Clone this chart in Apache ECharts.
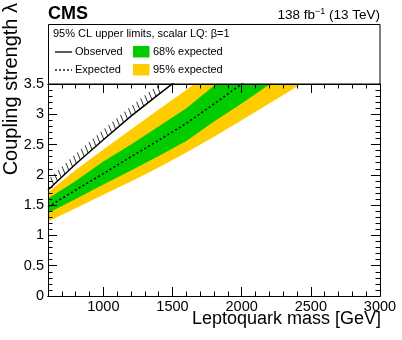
<!DOCTYPE html>
<html>
<head>
<meta charset="utf-8">
<script src="https://cdn.jsdelivr.net/npm/echarts@6/dist/echarts.min.js"></script>
<style>html,body{margin:0;padding:0;background:#fff}#c{width:402px;height:340px}</style>
</head>
<body>
<div id="c"></div>
<script>
// ---- data ----
const massGrid   = [600, 800, 1000, 1200, 1400, 1600, 1800, 2000, 2200, 2400, 2600];
const band95Low  = [1.23, 1.45, 1.67, 1.89, 2.12, 2.37, 2.63, 2.90, 3.18, 3.46, 3.74];
const band95High = [1.71, 2.08, 2.42, 2.75, 3.08, 3.40, 3.75, 4.10, 4.45, 4.80, 5.15];
const band68Low  = [1.37, 1.60, 1.84, 2.07, 2.31, 2.56, 2.88, 3.18, 3.49, 3.80, 4.10];
const band68High = [1.61, 1.90, 2.22, 2.50, 2.80, 3.10, 3.47, 3.80, 4.15, 4.50, 4.85];
const expectedMass = [600, 800, 1000, 1200, 1400, 1600, 1800, 2000, 2200];
const expectedVals = [1.47, 1.75, 2.02, 2.30, 2.57, 2.85, 3.17, 3.50, 3.83];
const observedMass = [600, 800, 1000, 1200, 1400, 1600];
const observedVals = [1.75, 2.18, 2.58, 2.97, 3.33, 3.68];
const xMajorTicks = [1000, 1500, 2000, 2500, 3000];

const FONT = 'Liberation Sans';
const pairs = (xs, ys) => xs.map((x, i) => [x, ys[i]]);

// Sutherland-Hodgman clip of a pixel polygon against a rectangle
function clipPoly(pts, r) {
  const edges = [
    [p => p[0] >= r.x, (a, b) => { const t = (r.x - a[0]) / (b[0] - a[0]); return [r.x, a[1] + t * (b[1] - a[1])]; }],
    [p => p[0] <= r.x + r.width, (a, b) => { const X = r.x + r.width; const t = (X - a[0]) / (b[0] - a[0]); return [X, a[1] + t * (b[1] - a[1])]; }],
    [p => p[1] >= r.y, (a, b) => { const t = (r.y - a[1]) / (b[1] - a[1]); return [a[0] + t * (b[0] - a[0]), r.y]; }],
    [p => p[1] <= r.y + r.height, (a, b) => { const Y = r.y + r.height; const t = (Y - a[1]) / (b[1] - a[1]); return [a[0] + t * (b[0] - a[0]), Y]; }]
  ];
  let out = pts;
  for (const [inside, inter] of edges) {
    const inp = out; out = [];
    if (!inp.length) break;
    for (let i = 0; i < inp.length; i++) {
      const cur = inp[i], prev = inp[(i + inp.length - 1) % inp.length];
      if (inside(cur)) {
        if (!inside(prev)) out.push(inter(prev, cur));
        out.push(cur);
      } else if (inside(prev)) {
        out.push(inter(prev, cur));
      }
    }
  }
  return out;
}

function bandSeries(lo, hi, color, z) {
  return {
    type: 'custom', silent: true, z: z,
    data: [[massGrid[0], lo[0]]],
    renderItem: function (params, api) {
      const up = massGrid.map((m, i) => api.coord([m, hi[i]]));
      const dn = massGrid.map((m, i) => api.coord([m, lo[i]])).reverse();
      const cs = params.coordSys;
      const pts = clipPoly(up.concat(dn), {x: cs.x, y: cs.y, width: cs.width, height: cs.height});
      return {type: 'polygon', shape: {points: pts}, style: {fill: color, stroke: null}};
    }
  };
}

const chart = echarts.init(document.getElementById('c'), null, {renderer: 'canvas'});

const baseX = (pos, major) => ({
  type: 'value', position: pos, min: 600, max: 3000, interval: 100, z: 10,
  axisLine: {show: true, lineStyle: {color: '#000', width: 1}},
  axisTick: major
    ? {show: true, inside: true, length: 9, customValues: xMajorTicks, lineStyle: {color: '#000', width: 1}}
    : {show: true, inside: true, length: 4.5, lineStyle: {color: '#000', width: 1}},
  axisLabel: (major && pos === 'bottom')
    ? {show: true, customValues: xMajorTicks, color: '#000', fontFamily: FONT, fontSize: 14.5, margin: 3,
       formatter: v => String(v)}
    : {show: false},
  splitLine: {show: false}, minorTick: {show: false}, minorSplitLine: {show: false}
});
const baseY = (pos, labels) => ({
  type: 'value', position: pos, min: 0, max: 3.5, interval: 0.5, z: 10,
  axisLine: {show: true, lineStyle: {color: '#000', width: 1}},
  axisTick: {show: true, inside: true, length: 9, lineStyle: {color: '#000', width: 1}},
  minorTick: {show: true, splitNumber: 5, length: 4.5, lineStyle: {color: '#000', width: 1}},
  axisLabel: labels ? {show: true, color: '#000', fontFamily: FONT, fontSize: 14.5, margin: 4} : {show: false},
  splitLine: {show: false}
});

const option = {
  animation: false,
  backgroundColor: '#fff',
  grid: {left: 48, right: 22, top: 84, bottom: 44, containLabel: false},
  xAxis: [baseX('bottom', false), baseX('bottom', true), baseX('top', false), baseX('top', true)],
  yAxis: [baseY('left', true), baseY('right', false)],
  series: [
    bandSeries(band95Low, band95High, '#ffcc00', 1),
    bandSeries(band68Low, band68High, '#00cc00', 2),
    {type: 'line', data: pairs(expectedMass, expectedVals), symbol: 'none', silent: true,
     lineStyle: {color: '#000', width: 1.5, type: [2, 2.5]}, z: 3},
    {type: 'line', data: pairs(observedMass, observedVals), symbol: 'none', silent: true,
     lineStyle: {color: '#000', width: 1.5}, z: 4},
    {type: 'custom', silent: true, z: 4,
     data: [[observedMass[0], observedVals[0]]],
     renderItem: function (params, api) {
       const pts = observedMass.map((m, i) => api.coord([m, observedVals[i]]));
       const top = api.coord([600, 3.5])[1];
       const left = api.coord([600, 0])[0];
       const step = 5.2, dx = -3.0, dy = -7.5;
       const children = [];
       let carry = step / 2;
       for (let i = 0; i < pts.length - 1; i++) {
         const [x0, y0] = pts[i], [x1, y1] = pts[i + 1];
         const len = Math.hypot(x1 - x0, y1 - y0);
         let d = carry;
         while (d <= len) {
           const t = d / len;
           const px = x0 + (x1 - x0) * t, py = y0 + (y1 - y0) * t;
           if (py + dy >= top && px + dx >= left) {
             children.push({type: 'line', shape: {x1: px, y1: py, x2: px + dx, y2: py + dy},
               style: {stroke: '#000', lineWidth: 0.8}});
           }
           d += step;
         }
         carry = d - len;
       }
       return {type: 'group', children: children};
     }}
  ],
  graphic: [
    {type: 'text', left: 48, top: 5, style: {text: 'CMS', font: 'bold 18px ' + FONT, fill: '#000'}},
    {type: 'text', x: 380, y: 15, style: {
      text: '{a|138 fb}{s|−1}{a| (13 TeV)}', align: 'right', verticalAlign: 'middle',
      rich: {a: {fontFamily: FONT, fontSize: 13.5, lineHeight: 16, fill: '#000'},
             s: {fontFamily: FONT, fontSize: 9, lineHeight: 16, verticalAlign: 'top', fill: '#000'}}}},
    {type: 'rect', shape: {x: 48.5, y: 24.5, width: 331.5, height: 59.5},
     style: {fill: '#fff', stroke: '#000', lineWidth: 1}},
    {type: 'text', x: 53, y: 34, style: {text: '95% CL upper limits, scalar LQ: β=1', font: '11px ' + FONT,
      fill: '#000', verticalAlign: 'middle'}},
    {type: 'line', shape: {x1: 55, y1: 52, x2: 72, y2: 52}, style: {stroke: '#000', lineWidth: 1.3}},
    {type: 'text', x: 75, y: 52, style: {text: 'Observed', font: '11px ' + FONT, fill: '#000', verticalAlign: 'middle'}},
    {type: 'line', shape: {x1: 55, y1: 70, x2: 72, y2: 70}, style: {stroke: '#000', lineWidth: 1.3, lineDash: [2, 2]}},
    {type: 'text', x: 75, y: 70, style: {text: 'Expected', font: '11px ' + FONT, fill: '#000', verticalAlign: 'middle'}},
    {type: 'rect', shape: {x: 133, y: 46, width: 16.5, height: 11.5}, style: {fill: '#00cc00'}},
    {type: 'text', x: 153, y: 52, style: {text: '68% expected', font: '11px ' + FONT, fill: '#000', verticalAlign: 'middle'}},
    {type: 'rect', shape: {x: 133, y: 64, width: 16.5, height: 11.5}, style: {fill: '#ffcc00'}},
    {type: 'text', x: 153, y: 70, style: {text: '95% expected', font: '11px ' + FONT, fill: '#000', verticalAlign: 'middle'}},
    {type: 'text', x: 11, y: 3, rotation: Math.PI / 2, style: {text: 'Coupling strength λ', font: '20px ' + FONT,
      fill: '#000', align: 'right', verticalAlign: 'middle'}},
    {type: 'text', x: 381, y: 319, style: {text: 'Leptoquark mass [GeV]', font: '18px ' + FONT,
      fill: '#000', align: 'right', verticalAlign: 'middle'}}
  ]
};
chart.setOption(option);
</script>
</body>
</html>
